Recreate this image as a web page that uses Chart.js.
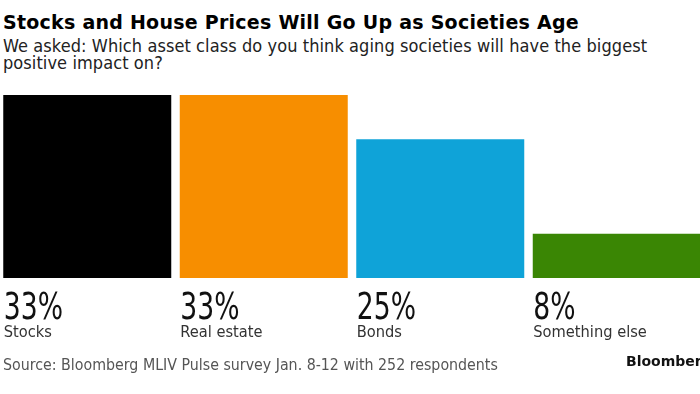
<!DOCTYPE html>
<html>
<head>
<meta charset="utf-8">
<script src="https://cdn.jsdelivr.net/npm/chart.js@4.4.1/dist/chart.umd.min.js"></script>
<style>
  html, body { margin: 0; padding: 0; background: #fff; }
  body { width: 700px; height: 394px; overflow: hidden; position: relative; }
  .t { position: absolute; white-space: nowrap; }
  #title { left: 3px; top: 13px; font: bold 19px "DejaVu Sans"; letter-spacing: 0.25px; line-height: 19px; color: #000; }
  #subtitle { left: 3px; top: 36.5px; font: 18px "DejaVu Sans Condensed"; letter-spacing: 0.08px; line-height: 17.5px; color: #222; }
  #source { left: 3px; top: 357px; font: 15.8px "DejaVu Sans Condensed"; line-height: 16px; color: #555; }
  #logo { left: 626px; top: 354px; font: bold 14px "DejaVu Sans"; line-height: 14px; color: #111; }
  #wrap { position: absolute; left: -1px; top: 0; width: 720px; height: 394px; }
</style>
</head>
<body>
<div id="title" class="t">Stocks and House Prices Will Go Up as Societies Age</div>
<div id="subtitle" class="t">We asked: Which asset class do you think aging societies will have the biggest<br>positive impact on?</div>
<div id="wrap"><canvas id="c" width="720" height="394"></canvas></div>
<div id="source" class="t">Source: Bloomberg MLIV Pulse survey Jan. 8-12 with 252 respondents</div>
<div id="logo" class="t">Bloomberg</div>
<script>
const categories = ["Stocks", "Real estate", "Bonds", "Something else"];
const shares = [33, 33, 25, 8];
const barColors = ["#000000", "#f78e00", "#0fa3d8", "#3a8604"];

const labelPlugin = {
  id: "barLabels",
  afterDatasetsDraw(chart) {
    const ctx = chart.ctx;
    const meta = chart.getDatasetMeta(0);
    meta.data.forEach((bar, i) => {
      const left = bar.x - bar.width / 2;
      ctx.save();
      ctx.textAlign = "left";
      ctx.textBaseline = "alphabetic";
      ctx.fillStyle = "#111";
      ctx.font = '37px "DejaVu Sans Condensed"';
      ctx.translate(left + 0.5, 319);
      ctx.scale(0.8, 1);
      ctx.fillText(shares[i] + "%", 0, 0);
      ctx.restore();
      ctx.save();
      ctx.textAlign = "left";
      ctx.textBaseline = "alphabetic";
      ctx.fillStyle = "#333";
      ctx.font = '16.3px "DejaVu Sans Condensed"';
      ctx.fillText(categories[i], left + 0.5, 336.5);
      ctx.restore();
    });
  }
};

new Chart(document.getElementById("c"), {
  type: "bar",
  data: {
    labels: categories,
    datasets: [{
      data: shares,
      backgroundColor: barColors,
      borderWidth: 0,
      categoryPercentage: 1,
      barPercentage: 168 / 176.5
    }]
  },
  options: {
    responsive: false,
    animation: false,
    layout: { padding: { left: 0, right: 14, top: 95, bottom: 116 } },
    plugins: { legend: { display: false }, tooltip: { enabled: false }, title: { display: false } },
    scales: {
      x: { display: false, offset: true, grid: { display: false } },
      y: { display: false, min: 0, max: 33, grid: { display: false } }
    }
  },
  plugins: [labelPlugin]
});
</script>
</body>
</html>
